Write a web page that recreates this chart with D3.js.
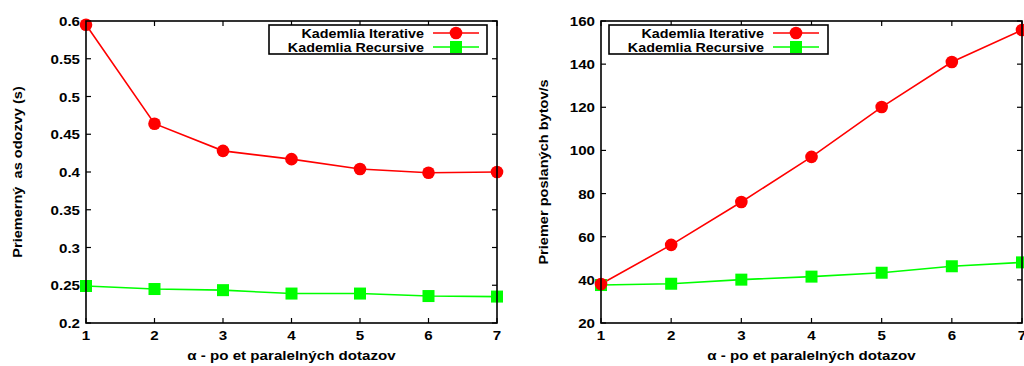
<!DOCTYPE html>
<html>
<head>
<meta charset="utf-8">
<script src="https://cdn.jsdelivr.net/npm/d3@7"></script>
<style>
  html, body { margin: 0; padding: 0; background: #fff; }
  svg { display: block; }
  text { font-family: "Liberation Sans", Arial, sans-serif; font-weight: bold; fill: #000; white-space: pre; }
</style>
</head>
<body>
<svg id="chart" width="1024" height="366"></svg>
<script>
// alpha: number of parallel queries
const alphas = [1, 2, 3, 4, 5, 6, 7];

// average response time (s)
const latencyIterative = [0.595, 0.464, 0.428, 0.417, 0.404, 0.399, 0.400];
const latencyRecursive = [0.249, 0.245, 0.2435, 0.239, 0.239, 0.2357, 0.235];

// average sent bytes per second
const bytesIterative = [38.1, 56.2, 76.1, 97.0, 120.1, 141.0, 155.8];
const bytesRecursive = [37.6, 38.2, 40.1, 41.5, 43.3, 46.3, 48.1];

const latencyTicks = [0.2, 0.25, 0.3, 0.35, 0.4, 0.45, 0.5, 0.55, 0.6];
const latencyTickLabels = ["0.2", "0.25", "0.3", "0.35", "0.4", "0.45", "0.5", "0.55", "0.6"];
const bytesTicks = [20, 40, 60, 80, 100, 120, 140, 160];

const seriesNames = ["Kademlia Iterative", "Kademlia Recursive"];
const xTitle = "\u03b1 - po et paralelných dotazov";

const RED = "#ff0000", GREEN = "#00ff00";
const SX = 1.12; // horizontal stretch of the lettering

const svg = d3.select("#chart");

function stretchedText(g, x, y, str, size, anchor) {
  return g.append("text")
    .attr("transform", `translate(${x},${y}) scale(${SX},1)`)
    .attr("text-anchor", anchor)
    .style("font-size", size + "px")
    .text(str);
}

function panel(opts) {
  const { left, right, top, bottom, yDomain, yTicks, yLabels, itVals, recVals, yTitle, yTitleX, legend } = opts;
  const g = svg.append("g");
  const x = d3.scaleLinear().domain([1, 7]).range([left, right]);
  const y = d3.scaleLinear().domain(yDomain).range([bottom, top]);
  const tk = 5;

  // tick marks on all four sides, pointing inward
  alphas.forEach(a => {
    g.append("line").attr("x1", x(a)).attr("x2", x(a)).attr("y1", bottom).attr("y2", bottom - tk)
      .attr("stroke", "#000").attr("stroke-width", 1.2);
    g.append("line").attr("x1", x(a)).attr("x2", x(a)).attr("y1", top).attr("y2", top + tk)
      .attr("stroke", "#000").attr("stroke-width", 1.2);
    stretchedText(g, x(a), bottom + 17, String(a), 13.5, "middle");
  });
  yTicks.forEach((t, i) => {
    g.append("line").attr("x1", left).attr("x2", left + tk).attr("y1", y(t)).attr("y2", y(t))
      .attr("stroke", "#000").attr("stroke-width", 1.2);
    g.append("line").attr("x1", right).attr("x2", right - tk).attr("y1", y(t)).attr("y2", y(t))
      .attr("stroke", "#000").attr("stroke-width", 1.2);
    stretchedText(g, left - 6, y(t) + 5, yLabels[i], 13.5, "end");
  });

  // series lines and markers
  const line = d3.line().x((d, i) => x(alphas[i])).y(d => y(d));
  g.append("path").datum(recVals).attr("d", line).attr("fill", "none")
    .attr("stroke", GREEN).attr("stroke-width", 1.6);
  g.append("path").datum(itVals).attr("d", line).attr("fill", "none")
    .attr("stroke", RED).attr("stroke-width", 1.6);
  g.selectAll(".sq").data(recVals).enter().append("rect")
    .attr("x", (d, i) => x(alphas[i]) - 6).attr("y", d => y(d) - 6)
    .attr("width", 12).attr("height", 12).attr("fill", GREEN);
  g.selectAll(".ci").data(itVals).enter().append("circle")
    .attr("cx", (d, i) => x(alphas[i])).attr("cy", d => y(d)).attr("r", 6.3).attr("fill", RED);

  // frame
  g.append("rect").attr("x", left).attr("y", top).attr("width", right - left).attr("height", bottom - top)
    .attr("fill", "none").attr("stroke", "#000").attr("stroke-width", 1.6);

  // legend
  const L = legend;
  g.append("rect").attr("x", L.x0).attr("y", 25).attr("width", L.x1 - L.x0).attr("height", 29)
    .attr("fill", "#fff").attr("stroke", "#000").attr("stroke-width", 1.6);
  [[RED, 33, "circle"], [GREEN, 47, "square"]].forEach(([c, yy, shape], i) => {
    stretchedText(g, L.textEnd, yy + 4.5, seriesNames[i], 12.8, "end");
    g.append("line").attr("x1", L.l0).attr("x2", L.l1).attr("y1", yy).attr("y2", yy)
      .attr("stroke", c).attr("stroke-width", 1.6);
    const mx = (L.l0 + L.l1) / 2;
    if (shape === "circle") g.append("circle").attr("cx", mx).attr("cy", yy).attr("r", 6.3).attr("fill", c);
    else g.append("rect").attr("x", mx - 6).attr("y", yy - 6).attr("width", 12).attr("height", 12).attr("fill", c);
  });

  // axis titles
  stretchedText(g, (left + right) / 2, 360, xTitle, 13.5, "middle");
  g.append("text")
    .attr("transform", `translate(${yTitleX},${(top + bottom) / 2}) rotate(-90) scale(${SX},1)`)
    .attr("text-anchor", "middle")
    .style("font-size", "13px")
    .text(yTitle);
}

panel({
  left: 86, right: 497, top: 21, bottom: 323,
  yDomain: [0.2, 0.6], yTicks: latencyTicks, yLabels: latencyTickLabels,
  itVals: latencyIterative, recVals: latencyRecursive,
  yTitle: "Priemerný  as odozvy (s)", yTitleX: 22,
  legend: { x0: 269, x1: 487, textEnd: 424, l0: 433, l1: 479 }
});

panel({
  left: 601, right: 1022, top: 21, bottom: 323,
  yDomain: [20, 160], yTicks: bytesTicks, yLabels: bytesTicks.map(String),
  itVals: bytesIterative, recVals: bytesRecursive,
  yTitle: "Priemer poslaných bytov/s", yTitleX: 548,
  legend: { x0: 609, x1: 828, textEnd: 764, l0: 773, l1: 819 }
});
</script>
</body>
</html>
